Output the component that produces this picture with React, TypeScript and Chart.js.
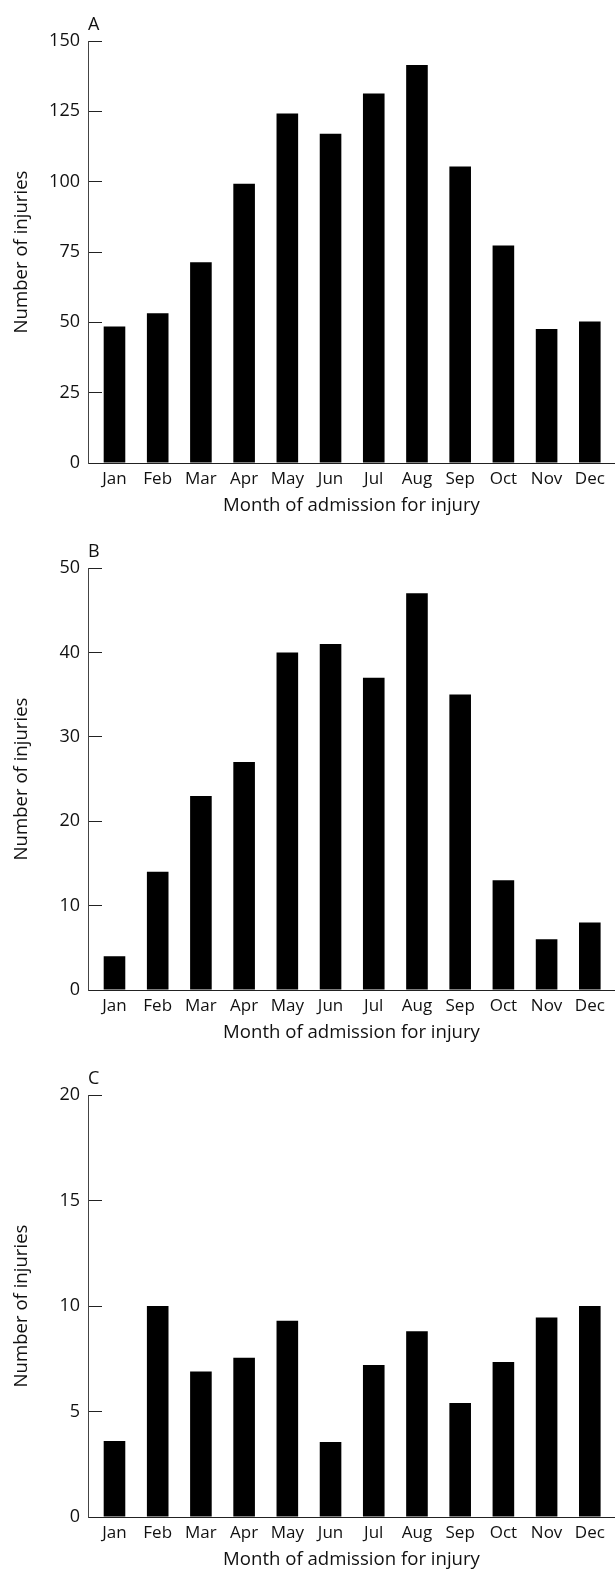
import React, { useEffect, useRef } from "react";
import { Chart, registerables } from "chart.js";

Chart.register(...registerables);

const months = ["Jan", "Feb", "Mar", "Apr", "May", "Jun", "Jul", "Aug", "Sep", "Oct", "Nov", "Dec"];
const injuriesA = [48.5, 53.2, 71.4, 99.3, 124.2, 117.0, 131.3, 141.5, 105.4, 77.3, 47.6, 50.3];
const injuriesB = [4, 14, 23, 27, 40, 41, 37, 47, 35, 13, 6, 8];
const injuriesC = [3.6, 10, 6.9, 7.55, 9.3, 3.55, 7.2, 8.8, 5.4, 7.35, 9.45, 10];
const panelLetters = ["A", "B", "C"];
const yMaxes = [150, 50, 20];
const ySteps = [25, 10, 5];
const xTitle = "Month of admission for injury";
const yTitle = "Number of injuries";

const FONT = "'Open Sans', 'Noto Sans', sans-serif";

const panelLabelPlugin = {
  id: "panelLabel",
  afterDraw(chart: any, _args: any, opts: any) {
    const { ctx, chartArea } = chart;
    ctx.save();
    ctx.font = `18px ${FONT}`;
    ctx.fillStyle = "#111";
    ctx.textAlign = "left";
    ctx.textBaseline = "alphabetic";
    ctx.fillText(opts.text, chartArea.left, chartArea.top - 11);
    ctx.restore();
  },
};

function Panel({ letter, values, yMax, yStep }: { letter: string; values: number[]; yMax: number; yStep: number }) {
  const ref = useRef<HTMLCanvasElement | null>(null);
  useEffect(() => {
    if (!ref.current) return;
    const chart = new Chart(ref.current, {
      type: "bar",
      data: {
        datasets: [
          {
            data: values.map((v, i) => ({ x: i, y: v })),
            backgroundColor: "#000",
            borderWidth: 0,
            barPercentage: 0.5,
            categoryPercentage: 1,
          },
        ],
      },
      options: {
        animation: false,
        responsive: false,
        layout: { padding: { top: 41, left: 0, right: 0, bottom: 0 } },
        plugins: {
          legend: { display: false },
          tooltip: { enabled: false },
          panelLabel: { text: letter },
        } as any,
        scales: {
          x: {
            type: "linear",
            offset: false,
            bounds: "data",
            min: -0.613,
            max: 11.583,
            grid: { display: false, offset: false },
            border: { display: true, color: "#222", width: 1 },
            afterBuildTicks: (s: any) => {
              s.ticks = months.map((_, i) => ({ value: i }));
            },
            afterFit: (s: any) => {
              s.height = 64;
            },
            ticks: {
              autoSkip: false,
              maxRotation: 0,
              minRotation: 0,
              padding: -2,
              color: "#111",
              font: { family: FONT, size: 17 },
              callback: (v: any) => months[v] ?? "",
            },
            title: {
              display: true,
              text: xTitle,
              color: "#111",
              font: { family: FONT, size: 18.6 },
              padding: { top: 0, bottom: 10 },
            },
          },
          y: {
            min: 0,
            max: yMax,
            grid: { display: true, drawOnChartArea: false, drawTicks: true, tickLength: -14, color: "#222" },
            border: { display: true, color: "#444", width: 1 },
            afterFit: (s: any) => {
              s.width = 88;
            },
            ticks: {
              stepSize: yStep,
              padding: 22,
              color: "#111",
              font: { family: FONT, size: 18 },
            },
            title: {
              display: true,
              text: yTitle,
              color: "#111",
              font: { family: FONT, size: 18.6 },
              padding: { top: 11, bottom: 0 },
            },
          },
        },
      } as any,
      plugins: [panelLabelPlugin],
    });
    return () => chart.destroy();
  }, []);
  return <canvas ref={ref} width={615} height={527} style={{ display: "block" }} />;
}

export default function App() {
  const data = [injuriesA, injuriesB, injuriesC];
  return (
    <div
      style={{
        position: "absolute",
        left: 0,
        top: 0,
        width: 615,
        height: 1569,
        overflow: "hidden",
        background: "#fff",
      }}
    >
      {panelLetters.map((l, i) => (
        <Panel key={l} letter={l} values={data[i]} yMax={yMaxes[i]} yStep={ySteps[i]} />
      ))}
    </div>
  );
}
